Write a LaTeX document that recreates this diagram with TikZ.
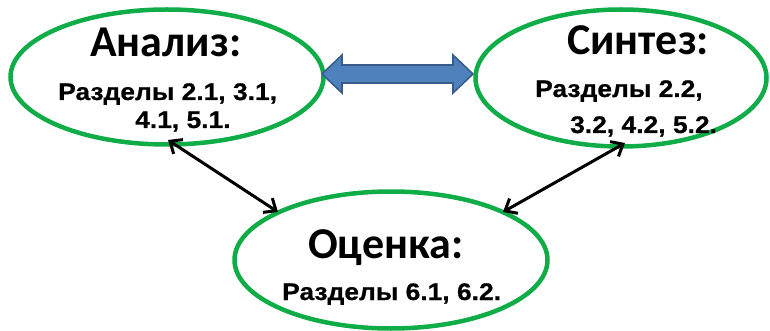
\documentclass[tikz,border=0pt]{standalone}
\usepackage{fontspec}
\newfontfamily\titlefont{Carlito}[BoldFont=* Bold]
\newfontfamily\subfont{Liberation Sans}[FakeStretch=1.1,BoldFeatures={FakeBold=0.7}]
\usetikzlibrary{arrows.meta,shapes.geometric}
\definecolor{ringgreen}{RGB}{16,172,72}
\definecolor{arrowblue}{RGB}{79,129,189}
\definecolor{arrowedge}{RGB}{56,93,138}
\begin{document}
\begin{tikzpicture}[x=1pt,y=-1pt,
  ring/.style={draw=ringgreen,line width=4.5pt,ellipse,inner sep=0pt},
  ttl/.style={anchor=base west,inner sep=0pt,font=\titlefont\bfseries\fontsize{44}{44}\selectfont},
  sub/.style={anchor=base west,inner sep=0pt,font=\subfont\bfseries\fontsize{24}{24}\selectfont},
  barb/.tip={Straight Barb[length=10pt,width=17pt,line width=3pt]},
  link/.style={line width=3pt,barb-barb}]
\useasboundingbox (0,0) rectangle (770,331);
\node[ring,minimum width=313pt,minimum height=135pt] (an) at (167,77) {};
\node[ring,minimum width=291pt,minimum height=137pt] (sy) at (621,78) {};
\node[ring,minimum width=313pt,minimum height=137pt] (oc) at (391,260) {};
\node[ttl] (anT) at (90,57) {Анализ:};
\node[sub] (anS1) at (58,100) {Разделы 2.1, 3.1,};
\node[sub] (anS2) at (135,128) {4.1, 5.1.};
\node[ttl] (syT) at (567,55) {Синтез:};
\node[sub] (syS1) at (535,97) {Разделы 2.2,};
\node[sub] (syS2) at (570,133) {3.2, 4.2, 5.2.};
\node[ttl] (ocT) at (308,258) {Оценка:};
\node[sub] (ocS) at (282,300) {Разделы 6.1, 6.2.};
\draw[draw=arrowedge,fill=arrowblue,line width=1.6pt,line join=miter]
  (322,74) -- (342,55) -- (342,65) -- (453,65) -- (453,55) -- (473,74)
  -- (453,93) -- (453,83) -- (342,83) -- (342,93) -- cycle;
\coordinate (a1) at (168,140);
\coordinate (a2) at (278,212);
\coordinate (b1) at (625,143);
\coordinate (b2) at (503,212);
\draw[link] (a1) -- (a2);
\draw[link] (b1) -- (b2);
\end{tikzpicture}
\end{document}
